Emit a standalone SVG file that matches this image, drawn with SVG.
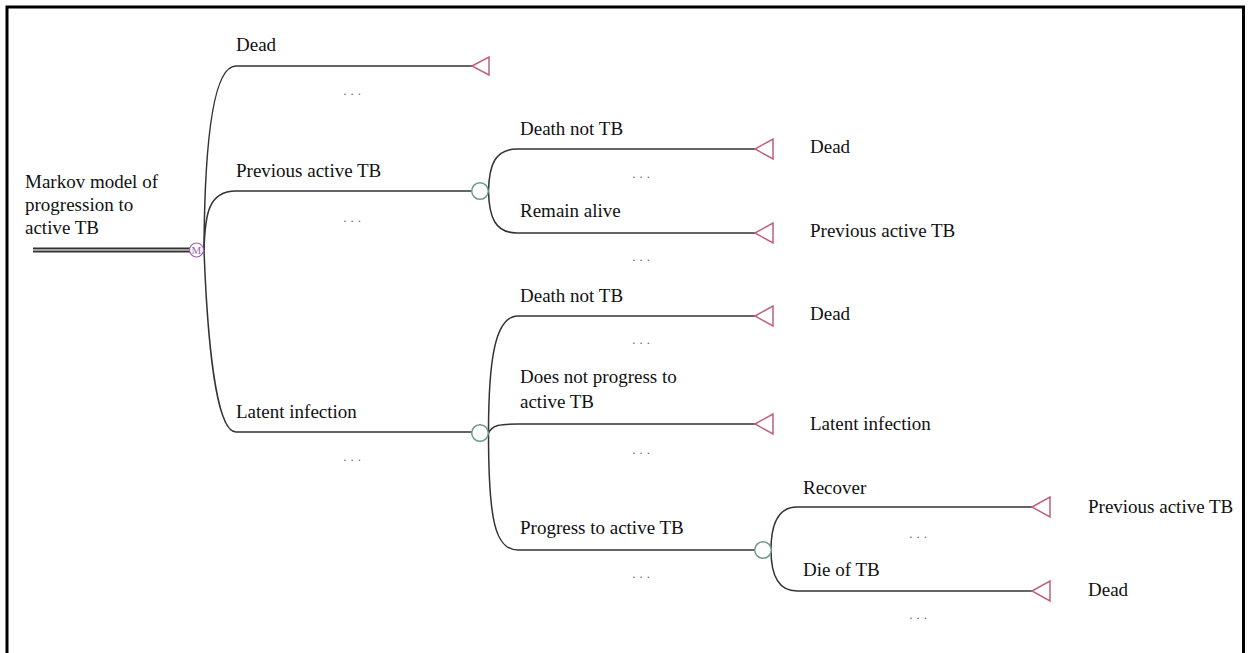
<svg xmlns="http://www.w3.org/2000/svg" width="1252" height="653" viewBox="0 0 1252 653">
<style>
text{font-family:"Liberation Serif","Times New Roman",serif;font-size:19px;fill:#111}
.dots{font-size:13px;letter-spacing:4px;fill:#666;text-anchor:middle}
.edge{fill:none;stroke:#333;stroke-width:1.5}
.term{fill:#fff;stroke:#c0607a;stroke-width:1.5;stroke-linejoin:miter}
.chance{fill:#fff;stroke:#6f9a88;stroke-width:1.5}
.markov{fill:#fff;stroke:#a060b0;stroke-width:1.2}
</style>
<rect x="7" y="7" width="1236.5" height="700" fill="#fff" stroke="#000" stroke-width="3"/>

<g id="connectors">
  <line x1="33" y1="250" x2="190" y2="250" stroke="#333" stroke-width="5"/>
  <line x1="33" y1="250" x2="190" y2="250" stroke="#c8c8c8" stroke-width="1.4"/>
  <path class="edge" d="M204,250 Q205,66 236,66 L472,66"/>
  <path class="edge" d="M204,250 C205,215 208,191 236,191 L472,191"/>
  <path class="edge" d="M204,250 C207,330 215,432 236,432 L472,432"/>
  <path class="edge" d="M488.5,191 C489,165 495,149 517,149 L755,149"/>
  <path class="edge" d="M488.5,191 C489,217 495,233 517,233 L755,233"/>
  <path class="edge" d="M488.5,433 C488.5,360 495,316 518,316 L755,316"/>
  <path class="edge" d="M488.5,433 C492,425 500,424 518,424 L755,424"/>
  <path class="edge" d="M488.5,433 C488.5,520 495,550 518,550 L755,550"/>
  <path class="edge" d="M771,550 C771,525 778,507 797,507 L1032,507"/>
  <path class="edge" d="M771,550 C771,575 778,591 797,591 L1032,591"/>
</g>

<g id="root">
  <text x="25" y="188">Markov model of</text>
  <text x="25" y="211">progression to</text>
  <text x="25" y="234">active TB</text>
  <circle class="markov" cx="196.5" cy="250" r="7"/>
  <text x="196.5" y="254" style="font-size:11px;fill:#a060b0;text-anchor:middle">M</text>
</g>

<g id="n-dead-top">
  <text x="236" y="51">Dead</text>
  <text class="dots" x="354" y="95">...</text>
  <polygon class="term" points="472,66 489,57 489,75"/>
</g>

<g id="n-prev">
  <text x="236" y="177">Previous active TB</text>
  <text class="dots" x="354" y="222">...</text>
  <circle class="chance" cx="480" cy="191" r="8.3"/>
</g>

<g id="n-prev-death">
  <text x="520" y="135">Death not TB</text>
  <text class="dots" x="643" y="178">...</text>
  <polygon class="term" points="755,149 773,139 773,159"/>
  <text x="810" y="153">Dead</text>
</g>

<g id="n-prev-alive">
  <text x="520" y="217">Remain alive</text>
  <text class="dots" x="643" y="261">...</text>
  <polygon class="term" points="755,233 773,223 773,243"/>
  <text x="810" y="237">Previous active TB</text>
</g>

<g id="n-latent">
  <text x="236" y="418">Latent infection</text>
  <text class="dots" x="354" y="461">...</text>
  <circle class="chance" cx="480" cy="433" r="8.3"/>
</g>

<g id="n-latent-death">
  <text x="520" y="302">Death not TB</text>
  <text class="dots" x="643" y="344">...</text>
  <polygon class="term" points="755,316 773,306 773,326"/>
  <text x="810" y="320">Dead</text>
</g>

<g id="n-latent-stay">
  <text x="520" y="383">Does not progress to</text>
  <text x="520" y="408">active TB</text>
  <text class="dots" x="643" y="454">...</text>
  <polygon class="term" points="755,424 773,414 773,434"/>
  <text x="810" y="430">Latent infection</text>
</g>

<g id="n-progress">
  <text x="520" y="534">Progress to active TB</text>
  <text class="dots" x="643" y="578">...</text>
  <circle class="chance" cx="763" cy="550" r="8.3"/>
</g>

<g id="n-recover">
  <text x="803" y="494">Recover</text>
  <text class="dots" x="920" y="538">...</text>
  <polygon class="term" points="1032,507 1050,497 1050,517"/>
  <text x="1088" y="513">Previous active TB</text>
</g>

<g id="n-dieTB">
  <text x="803" y="576">Die of TB</text>
  <text class="dots" x="920" y="619">...</text>
  <polygon class="term" points="1032,591 1050,581 1050,601"/>
  <text x="1088" y="596">Dead</text>
</g>
</svg>
